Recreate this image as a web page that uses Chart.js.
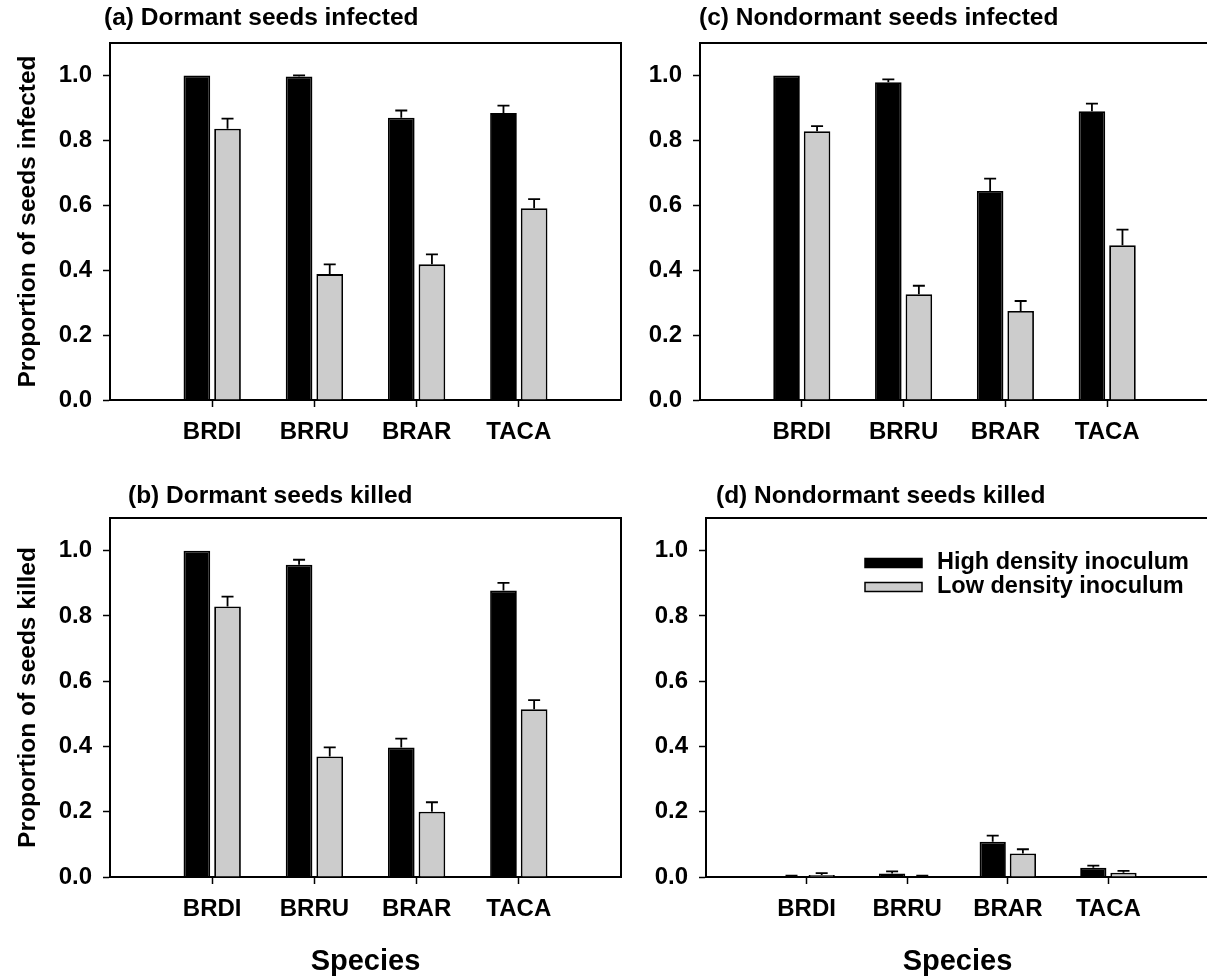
<!DOCTYPE html>
<html>
<head>
<meta charset="utf-8">
<script src="https://cdn.jsdelivr.net/npm/chart.js@4.4.0/dist/chart.umd.min.js"></script>
<style>
html, body { margin: 0; padding: 0; background: #fff; overflow: hidden; }
#wrap { position: relative; width: 1207px; height: 979px; overflow: hidden; background: #fff; }
.panel { position: absolute; }
canvas { display: block; }
</style>
</head>
<body>
<div id="wrap">
  <div class="panel" style="left:0px;top:0px;"><canvas id="ca" width="640" height="470"></canvas></div>
  <div class="panel" style="left:600px;top:0px;"><canvas id="cc" width="620" height="470"></canvas></div>
  <div class="panel" style="left:0px;top:480px;"><canvas id="cb" width="640" height="499"></canvas></div>
  <div class="panel" style="left:600px;top:480px;"><canvas id="cd" width="620" height="499"></canvas></div>
</div>
<script>
// ---------------- data ----------------
const species = ['BRDI', 'BRRU', 'BRAR', 'TACA'];
const seriesNames = ['High density inoculum', 'Low density inoculum'];
const yTickValues = [0.0, 0.2, 0.4, 0.6, 0.8, 1.0];

// (a) Dormant seeds infected
const dormInfHigh    = [1.000, 0.997, 0.870, 0.884];
const dormInfHighErr = [0.000, 0.003, 0.022, 0.023];
const dormInfLow     = [0.836, 0.388, 0.418, 0.591];
const dormInfLowErr  = [0.031, 0.030, 0.031, 0.028];

// (b) Dormant seeds killed
const dormKillHigh    = [1.000, 0.957, 0.397, 0.878];
const dormKillHighErr = [0.000, 0.015, 0.027, 0.023];
const dormKillLow     = [0.829, 0.369, 0.200, 0.514];
const dormKillLowErr  = [0.030, 0.028, 0.029, 0.028];

// (c) Nondormant seeds infected
const nondInfHigh    = [1.000, 0.979, 0.644, 0.890];
const nondInfHighErr = [0.000, 0.009, 0.038, 0.023];
const nondInfLow     = [0.828, 0.326, 0.274, 0.477];
const nondInfLowErr  = [0.016, 0.026, 0.031, 0.048];

// (d) Nondormant seeds killed
const nondKillHigh    = [0.002, 0.011, 0.108, 0.028];
const nondKillHighErr = [0.002, 0.006, 0.019, 0.007];
const nondKillLow     = [0.006, 0.002, 0.072, 0.013];
const nondKillLowErr  = [0.006, 0.002, 0.013, 0.006];

// ---------------- style ----------------
const FONT = '"Liberation Sans", Arial, sans-serif';
Chart.defaults.font.family = FONT;
Chart.defaults.color = '#000';
const HIGH_COLOR = '#000000';
const LOW_COLOR = '#cccccc';

const pad = arr => [null, ...arr, null];

const errorBarPlugin = {
  id: 'errorBars',
  afterDatasetsDraw(chart) {
    const ctx = chart.ctx;
    const ys = chart.scales.y;
    chart.data.datasets.forEach((ds, di) => {
      if (!ds.errors) return;
      const meta = chart.getDatasetMeta(di);
      meta.data.forEach((bar, i) => {
        const v = ds.data[i], e = ds.errors[i];
        if (v == null || e == null || e <= 0) return;
        const y0 = ys.getPixelForValue(v);
        const y1 = ys.getPixelForValue(v + e);
        ctx.save();
        ctx.strokeStyle = '#000';
        ctx.lineWidth = 1.8;
        ctx.beginPath();
        ctx.moveTo(bar.x, y0);
        ctx.lineTo(bar.x, y1);
        ctx.moveTo(bar.x - 6, y1);
        ctx.lineTo(bar.x + 6, y1);
        ctx.stroke();
        ctx.restore();
      });
    });
  }
};

const framePlugin = {
  id: 'frame',
  afterDraw(chart) {
    const a = chart.chartArea, ctx = chart.ctx;
    ctx.save();
    ctx.strokeStyle = '#000';
    ctx.lineWidth = 2;
    ctx.beginPath();
    ctx.moveTo(a.left, a.top);
    ctx.lineTo(a.right, a.top);
    ctx.lineTo(a.right, a.bottom);
    ctx.stroke();
    ctx.restore();
  }
};

const panelTitlePlugin = {
  id: 'panelTitle',
  afterDraw(chart, args, opts) {
    if (!opts || !opts.text) return;
    const ctx = chart.ctx;
    ctx.save();
    ctx.fillStyle = '#000';
    ctx.font = 'bold 24.5px ' + FONT;
    ctx.textBaseline = 'middle';
    ctx.textAlign = 'left';
    ctx.fillText(opts.text, chart.chartArea.left + opts.dx, opts.y);
    ctx.restore();
  }
};

const innerLegendPlugin = {
  id: 'innerLegend',
  afterDraw(chart, args, opts) {
    if (!opts || !opts.show) return;
    const ctx = chart.ctx;
    ctx.save();
    ctx.font = 'bold 23.5px ' + FONT;
    ctx.textBaseline = 'middle';
    ctx.textAlign = 'left';
    chart.data.datasets.forEach((ds, i) => {
      const yc = opts.y + i * opts.gap;
      ctx.fillStyle = ds.backgroundColor;
      ctx.fillRect(opts.x, yc - 4.5, 57, 9);
      ctx.strokeStyle = '#000';
      ctx.lineWidth = 1.5;
      ctx.strokeRect(opts.x, yc - 4.5, 57, 9);
      ctx.fillStyle = '#000';
      ctx.fillText(ds.label, opts.x + 72, yc);
    });
    ctx.restore();
  }
};

function makePanel(id, cfg) {
  const datasets = [
    { label: seriesNames[0], data: pad(cfg.high), errors: pad(cfg.highErr),
      backgroundColor: HIGH_COLOR, borderColor: '#000', borderWidth: 1.8 },
    { label: seriesNames[1], data: pad(cfg.low), errors: pad(cfg.lowErr),
      backgroundColor: LOW_COLOR, borderColor: '#000', borderWidth: 1.8 }
  ];
  return new Chart(document.getElementById(id), {
    type: 'bar',
    data: { labels: ['', ...species, ''], datasets },
    options: {
      responsive: false,
      animation: false,
      devicePixelRatio: 1,
      categoryPercentage: 0.6,
      barPercentage: 0.87,
      layout: { padding: { top: cfg.padTop, right: cfg.padRight, left: 0, bottom: 0 } },
      plugins: {
        legend: { display: false },
        tooltip: { enabled: false },
        panelTitle: { text: cfg.title, dx: cfg.titleDx, y: cfg.titleY },
        innerLegend: cfg.legend || { show: false }
      },
      scales: {
        x: {
          type: 'category',
          offset: false,
          grid: {
            offset: false, drawOnChartArea: false, tickLength: 7, tickWidth: 1.5,
            tickColor: c => (c.index > 0 && c.index < species.length + 1) ? '#000' : 'rgba(0,0,0,0)'
          },
          border: { color: '#000', width: 2 },
          ticks: { color: '#000', font: { size: 24, weight: 'bold' }, padding: 11, maxRotation: 0, autoSkip: false },
          title: cfg.xTitle ? { display: true, text: cfg.xTitle, color: '#000', font: { size: 29, weight: 'bold' }, padding: { top: 0, bottom: 0 } } : { display: false },
          afterFit(s) { s.height = cfg.xHeight; }
        },
        y: {
          min: 0, max: 1.1,
          afterBuildTicks(s) { s.ticks = yTickValues.map(v => ({ value: v })); },
          ticks: { color: '#000', font: { size: 24, weight: 'bold' }, padding: 11, callback: v => Number(v).toFixed(1) },
          grid: { drawOnChartArea: false, tickLength: 7, tickWidth: 1.5, tickColor: '#000' },
          border: { color: '#000', width: 2 },
          title: cfg.yTitle ? { display: true, text: cfg.yTitle, color: '#000', font: { size: 24.5, weight: 'bold' }, padding: { top: 14, bottom: 0 } } : { display: false },
          afterFit(s) { s.width = cfg.yWidth; }
        }
      }
    },
    plugins: [errorBarPlugin, framePlugin, panelTitlePlugin, innerLegendPlugin]
  });
}

makePanel('ca', {
  high: dormInfHigh, highErr: dormInfHighErr, low: dormInfLow, lowErr: dormInfLowErr,
  title: '(a) Dormant seeds infected', titleDx: -6, titleY: 18,
  padTop: 43, padRight: 19, xHeight: 70, yWidth: 110,
  yTitle: 'Proportion of seeds infected'
});
makePanel('cc', {
  high: nondInfHigh, highErr: nondInfHighErr, low: nondInfLow, lowErr: nondInfLowErr,
  title: '(c) Nondormant seeds infected', titleDx: -1, titleY: 18,
  padTop: 43, padRight: 9, xHeight: 70, yWidth: 100
});
makePanel('cb', {
  high: dormKillHigh, highErr: dormKillHighErr, low: dormKillLow, lowErr: dormKillLowErr,
  title: '(b) Dormant seeds killed', titleDx: 18, titleY: 16,
  padTop: 38, padRight: 19, xHeight: 102, yWidth: 110,
  yTitle: 'Proportion of seeds killed', xTitle: 'Species'
});
makePanel('cd', {
  high: nondKillHigh, highErr: nondKillHighErr, low: nondKillLow, lowErr: nondKillLowErr,
  title: '(d) Nondormant seeds killed', titleDx: 10, titleY: 16,
  padTop: 38, padRight: 3, xHeight: 102, yWidth: 106,
  xTitle: 'Species',
  legend: { show: true, x: 265, y: 83, gap: 24 }
});
</script>
</body>
</html>
